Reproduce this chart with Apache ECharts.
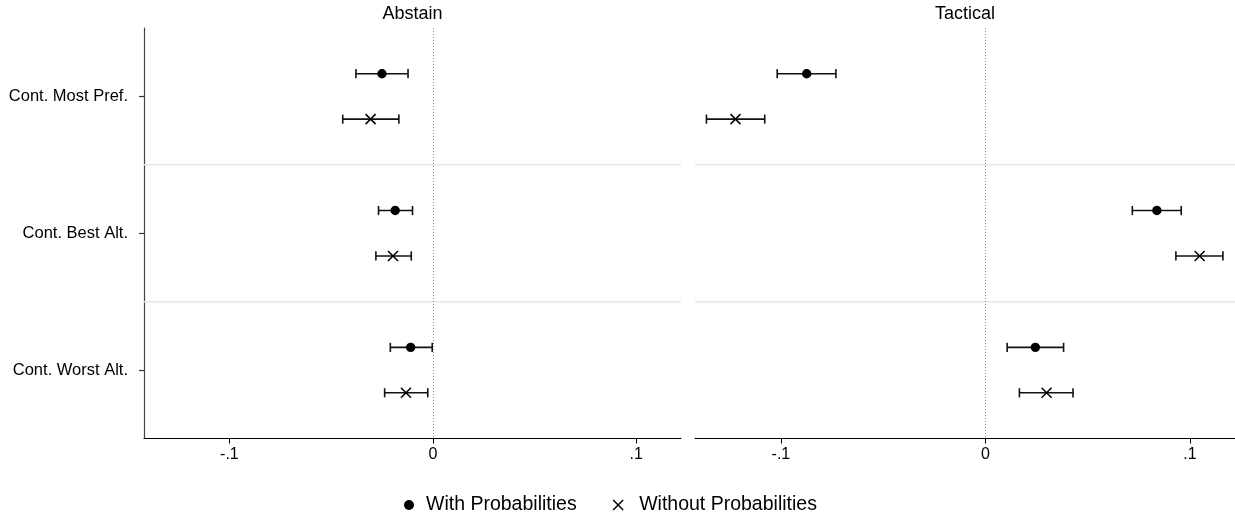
<!DOCTYPE html>
<html>
<head>
<meta charset="utf-8">
<script src="https://cdn.jsdelivr.net/npm/echarts@6/dist/echarts.min.js"></script>
<style>
html,body{margin:0;padding:0;background:#fff;}
#chart{width:1235px;height:515px;}
</style>
</head>
<body>
<div id="chart"></div>
<script>
// ---- data ----
const categories = ['Cont. Most Pref.', 'Cont. Best Alt.', 'Cont. Worst Alt.'];
const panelTitles = ['Abstain', 'Tactical'];
const seriesNames = ['With Probabilities', 'Without Probabilities'];
const tickValues = [-0.1, 0, 0.1];
const tickLabels = ['-.1', '0', '.1'];

const abstainWith      = [-0.0250, -0.0185, -0.0109];
const abstainWithLo    = [-0.0378, -0.0267, -0.0209];
const abstainWithHi    = [-0.0122, -0.0100, -0.0003];
const abstainWithout   = [-0.0306, -0.0196, -0.0132];
const abstainWithoutLo = [-0.0443, -0.0280, -0.0237];
const abstainWithoutHi = [-0.0167, -0.0106, -0.0025];

const tacticalWith      = [-0.0874, 0.0838, 0.0244];
const tacticalWithLo    = [-0.1018, 0.0718, 0.0106];
const tacticalWithHi    = [-0.0731, 0.0957, 0.0382];
const tacticalWithout   = [-0.1222, 0.1047, 0.0299];
const tacticalWithoutLo = [-0.1364, 0.0931, 0.0166];
const tacticalWithoutHi = [-0.1079, 0.1161, 0.0428];

// ---- layout ----
const FONT = "'Liberation Sans', Arial, Helvetica, sans-serif";
const W = 1235;
const grids = [
  {left: 144, right: W - 681, top: 28, bottom: 76.5},
  {left: 695, right: 0, top: 28, bottom: 76.5}
];
const XMIN = -0.142, XMAX = 0.122;
const OFFSET = 0.166; // fraction of category band between the two estimates
const INK = '#111';

function rows(v, lo, hi) {
  return categories.map((c, i) => [v[i], i, lo[i], hi[i]]);
}

function makeRender(offsetFrac, marker) {
  return function (params, api) {
    const cat = api.value(1);
    const c = api.coord([api.value(0), cat]);
    const band = api.size([0, 1])[1];
    const y = c[1] + offsetFrac * band;
    const lo = api.coord([api.value(2), cat])[0];
    const hi = api.coord([api.value(3), cat])[0];
    const st = {stroke: INK, lineWidth: 1.6};
    const cap = 4.6;
    const ch = [
      {type: 'line', shape: {x1: lo, y1: y, x2: hi, y2: y}, style: st},
      {type: 'line', shape: {x1: lo, y1: y - cap, x2: lo, y2: y + cap}, style: st},
      {type: 'line', shape: {x1: hi, y1: y - cap, x2: hi, y2: y + cap}, style: st}
    ];
    if (marker === 'dot') {
      ch.push({type: 'circle', shape: {cx: c[0], cy: y, r: 4.7}, style: {fill: '#000'}});
    } else {
      const s = 5;
      const xs = {stroke: '#000', lineWidth: 1.5};
      ch.push({type: 'line', shape: {x1: c[0] - s, y1: y - s, x2: c[0] + s, y2: y + s}, style: xs});
      ch.push({type: 'line', shape: {x1: c[0] - s, y1: y + s, x2: c[0] + s, y2: y - s}, style: xs});
    }
    return {type: 'group', children: ch};
  };
}

function renderGuide(params, api) {
  const cat = api.value(0);
  const c = api.coord([0, cat]);
  const band = api.size([0, 1])[1];
  const y = c[1] - band / 2;
  const cs = params.coordSys;
  return {type: 'line', shape: {x1: cs.x, y1: y, x2: cs.x + cs.width, y2: y},
          style: {stroke: '#e6e6e6', lineWidth: 1.5}, z2: 0};
}

const xAxes = grids.map((g, i) => ({
  type: 'value', gridIndex: i, min: XMIN, max: XMAX,
  axisLine: {show: true, onZero: false, lineStyle: {color: '#000', width: 1.2}},
  axisTick: {show: true, length: 5, customValues: tickValues, lineStyle: {color: '#000', width: 1}},
  axisLabel: {show: true, customValues: tickValues, margin: 8,
    formatter: v => { const k = tickValues.findIndex(t => Math.abs(t - v) < 1e-9); return k >= 0 ? tickLabels[k] : ''; },
    fontFamily: FONT, fontSize: 16, color: '#000'},
  splitLine: {show: false}
}));

const yAxes = grids.map((g, i) => ({
  type: 'category', gridIndex: i, data: categories, inverse: true, boundaryGap: true,
  show: i === 0,
  axisLine: {show: true, onZero: false, lineStyle: {color: '#444', width: 1.2}},
  axisTick: {show: true, alignWithLabel: true, length: 5, lineStyle: {color: '#333', width: 1.2}},
  axisLabel: {show: true, margin: 16, fontFamily: FONT, fontSize: 16.5, color: '#000'},
  splitLine: {show: false}
}));

const panelData = [
  [rows(abstainWith, abstainWithLo, abstainWithHi), rows(abstainWithout, abstainWithoutLo, abstainWithoutHi)],
  [rows(tacticalWith, tacticalWithLo, tacticalWithHi), rows(tacticalWithout, tacticalWithoutLo, tacticalWithoutHi)]
];

const series = [];
grids.forEach((g, i) => {
  series.push({
    type: 'custom', name: 'guides' + i, xAxisIndex: i, yAxisIndex: i, silent: true, z: 1,
    renderItem: renderGuide,
    data: categories.map((c, k) => [k]).slice(1),
    encode: {y: 0},
    markLine: {silent: true, symbol: 'none', label: {show: false},
      lineStyle: {type: [1, 2], color: '#8a8a8a', width: 1},
      data: [{xAxis: 0}]}
  });
  series.push({
    type: 'custom', name: seriesNames[0], xAxisIndex: i, yAxisIndex: i, z: 3,
    renderItem: makeRender(-OFFSET, 'dot'),
    data: panelData[i][0], encode: {x: [0, 2, 3], y: 1}
  });
  series.push({
    type: 'custom', name: seriesNames[1], xAxisIndex: i, yAxisIndex: i, z: 3,
    renderItem: makeRender(OFFSET, 'x'),
    data: panelData[i][1], encode: {x: [0, 2, 3], y: 1}
  });
});

const titleGraphics = grids.map((g, i) => {
  const left = g.left, right = W - g.right;
  return {type: 'text', x: (left + right) / 2, y: 14,
    style: {text: panelTitles[i], align: 'center', verticalAlign: 'middle',
      font: '18px ' + FONT, fill: '#000'}};
});

const option = {
  animation: false,
  backgroundColor: '#fff',
  grid: grids,
  xAxis: xAxes,
  yAxis: yAxes,
  series: series,
  graphic: titleGraphics,
  legend: {
    left: 399, top: 490, selectedMode: false,
    itemWidth: 10, itemHeight: 10, itemGap: 34,
    textStyle: {fontFamily: FONT, fontSize: 19.5, color: '#000', padding: [0, 0, 0, 7]},
    data: [
      {name: seriesNames[0], icon: 'circle', itemStyle: {color: '#000'}},
      {name: seriesNames[1], icon: 'path://M0,0L10,10M10,0L0,10',
        itemStyle: {color: 'none', borderColor: '#000', borderWidth: 1.5},
        textStyle: {padding: [0, 0, 0, 11]}}
    ]
  }
};

const chart = echarts.init(document.getElementById('chart'), null, {renderer: 'canvas'});
chart.setOption(option);
</script>
</body>
</html>
